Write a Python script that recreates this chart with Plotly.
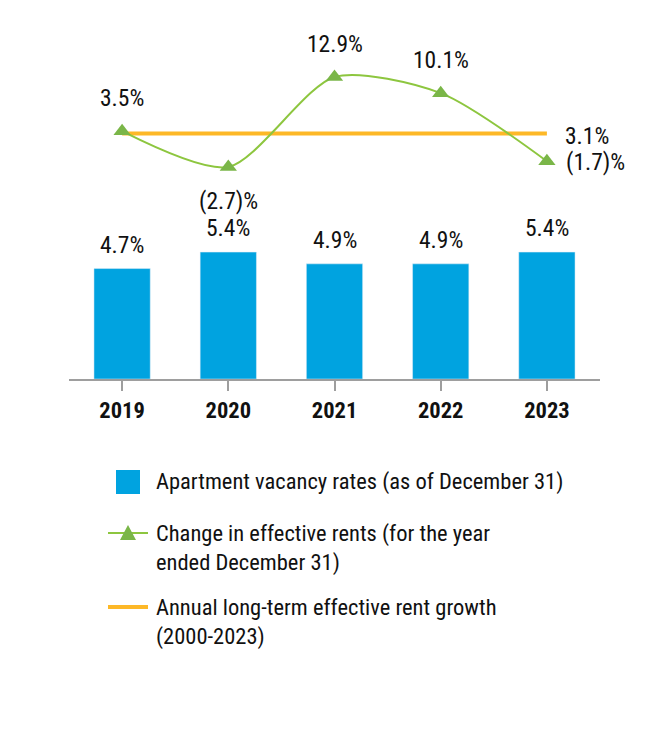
import plotly.graph_objects as go

years = ["2019", "2020", "2021", "2022", "2023"]
vacancy_rates = [4.7, 5.4, 4.9, 4.9, 5.4]
rent_change = [3.5, -2.7, 12.9, 10.1, -1.7]
long_term_growth = [3.1, 3.1, 3.1, 3.1, 3.1]

legend_labels = [
    "Apartment vacancy rates (as of December 31)",
    "Change in effective rents (for the year<br>ended December 31)",
    "Annual long-term effective rent growth<br>(2000-2023)",
]

# styles
FONT = "Liberation Sans Narrow, Roboto Condensed, Arial Narrow, Roboto, sans-serif"
BLUE = "#00A3E0"
GREEN_LINE = "#8DC63F"
GREEN_MK = "#7AB648"
ORANGE = "#FDB827"
AXIS = "#9E9E9E"
TXT = "#111111"
label_pos = ["above", "below", "above", "above", "right"]

OFF = 8  # page body margin
W, H = 670 - OFF, 738 - OFF
L, T = 69 - OFF, 20 - OFF
R = W - (600 - OFF)
B = H - (379 - OFF)
PW, PH = W - L - R, H - T - B


def px(xp):
    return (xp - OFF - L) / PW


def py(yp):
    return (H - B - (yp - OFF)) / PH


def fmt(v):
    return f"({abs(v):.1f})%" if v < 0 else f"{v:.1f}%"


fig = go.Figure()
fig.add_trace(go.Bar(x=years, y=vacancy_rates, marker_color=BLUE, width=0.53,
                     yaxis="y", hoverinfo="skip", name=legend_labels[0]))
fig.add_trace(go.Scatter(x=years, y=long_term_growth, mode="lines",
                         line=dict(color=ORANGE, width=4), yaxis="y2",
                         name=legend_labels[2]))
fig.add_trace(go.Scatter(x=years, y=rent_change, mode="lines+markers",
                         line=dict(color=GREEN_LINE, width=2, shape="spline", smoothing=0.75),
                         marker=dict(symbol="triangle-up", size=15, color=GREEN_MK),
                         yaxis="y2", name=legend_labels[1]))

lab_font = dict(size=23.5, color=TXT, family=FONT)
ann = []
for i, v in enumerate(vacancy_rates):
    ann.append(dict(x=i, y=v, xref="x", yref="y", text=fmt(v), showarrow=False,
                    yanchor="middle", yshift=24, font=lab_font))
for i, (v, pos) in enumerate(zip(rent_change, label_pos)):
    a = dict(x=i, y=v, xref="x", yref="y2", text=fmt(v), showarrow=False, font=lab_font)
    if pos == "above":
        a.update(yanchor="middle", yshift=33)
    elif pos == "below":
        a.update(yanchor="middle", yshift=-34)
    else:
        a.update(xanchor="left", yanchor="middle", xshift=17, yshift=-1)
    ann.append(a)
ann.append(dict(x=len(years) - 1, y=long_term_growth[-1], xref="x", yref="y2",
                text=fmt(long_term_growth[-1]), showarrow=False, xanchor="left",
                yanchor="middle", xshift=16, yshift=-2, font=lab_font))

# manual legend
shapes = []
shapes.append(dict(type="rect", xref="paper", yref="paper", x0=px(116), x1=px(140),
                   y0=py(494), y1=py(470), fillcolor=BLUE, line=dict(width=0)))
shapes.append(dict(type="line", xref="paper", yref="paper", x0=px(108), x1=px(148),
                   y0=py(533), y1=py(533), line=dict(color=GREEN_LINE, width=2)))
shapes.append(dict(type="path", xref="paper", yref="paper",
                   path=f"M {px(120)},{py(540)} L {px(136)},{py(540)} L {px(128)},{py(525)} Z",
                   fillcolor=GREEN_MK, line=dict(width=0)))
shapes.append(dict(type="line", xref="paper", yref="paper", x0=px(108), x1=px(148),
                   y0=py(607), y1=py(607), line=dict(color=ORANGE, width=4)))
for txt, ycen in zip(legend_labels, [481, 533, 607]):
    ann.append(dict(x=px(154), y=py(ycen - 15), xref="paper", yref="paper", text=txt,
                    showarrow=False, xanchor="left", yanchor="top", align="left",
                    font=dict(size=22.5, color=TXT, family=FONT)))

fig.update_layout(
    width=W, height=H, margin=dict(l=L, r=R, t=T, b=B),
    paper_bgcolor="white", plot_bgcolor="white", showlegend=False,
    font=dict(family=FONT, color=TXT),
    xaxis=dict(type="category", range=[-0.5, 4.5], showgrid=False, zeroline=False,
               showline=True, linecolor=AXIS, linewidth=2, ticks="outside", ticklen=10,
               tickwidth=2, tickcolor=AXIS,
               tickfont=dict(size=22.5, family=FONT, color=TXT, weight="bold"),
               fixedrange=True),
    yaxis=dict(domain=[0, 141 / PH], range=[0, 6], visible=False, fixedrange=True),
    yaxis2=dict(domain=[(379 - 230) / PH, 1], range=[-13.62, 22.78], visible=False,
                fixedrange=True, anchor="x"),
    annotations=ann, shapes=shapes,
)

fig.write_html("out.html")
